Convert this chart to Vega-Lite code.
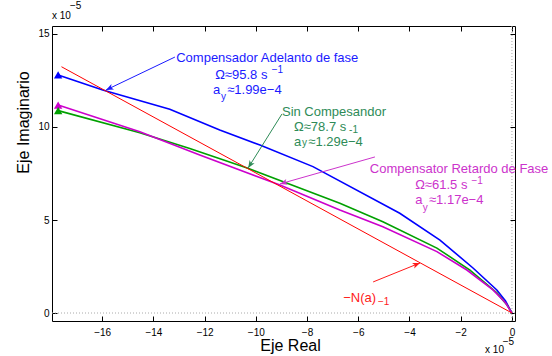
{
  "$schema": "https://vega.github.io/schema/vega-lite/v6.json",
  "width": 463,
  "height": 295,
  "autosize": "none",
  "padding": {"left": 52, "top": 26, "right": 37, "bottom": 35},
  "background": "white",
  "config": {
    "view": {"stroke": null},
    "font": "Liberation Sans",
    "axis": {"grid": false, "domainColor": "black", "tickColor": "black", "labelColor": "black", "titleColor": "black", "domainWidth": 1, "tickWidth": 1, "labelFlush": false, "labelFont": "Liberation Sans", "titleFont": "Liberation Sans"}
  },
  "datasets": {
    "curvas": [
      {"grupo": "adelanto", "x": -17.72, "y": 12.80},
      {"grupo": "adelanto", "x": -15.98, "y": 11.99},
      {"grupo": "adelanto", "x": -13.36, "y": 10.95},
      {"grupo": "adelanto", "x": -11.41, "y": 9.84},
      {"grupo": "adelanto", "x": -9.84, "y": 9.03},
      {"grupo": "adelanto", "x": -7.77, "y": 7.87},
      {"grupo": "adelanto", "x": -4.38, "y": 5.36},
      {"grupo": "adelanto", "x": -2.81, "y": 3.92},
      {"grupo": "adelanto", "x": -1.52, "y": 2.42},
      {"grupo": "adelanto", "x": -0.59, "y": 1.24},
      {"grupo": "adelanto", "x": -0.25, "y": 0.65},
      {"grupo": "adelanto", "x": 0, "y": 0},
      {"grupo": "sin", "x": -17.72, "y": 10.88},
      {"grupo": "sin", "x": -14.53, "y": 9.69},
      {"grupo": "sin", "x": -12.58, "y": 8.85},
      {"grupo": "sin", "x": -10.31, "y": 7.78},
      {"grupo": "sin", "x": -6.72, "y": 5.90},
      {"grupo": "sin", "x": -5.04, "y": 4.91},
      {"grupo": "sin", "x": -2.93, "y": 3.49},
      {"grupo": "sin", "x": -1.64, "y": 2.31},
      {"grupo": "sin", "x": -0.59, "y": 1.08},
      {"grupo": "sin", "x": -0.2, "y": 0.45},
      {"grupo": "sin", "x": 0, "y": 0},
      {"grupo": "retardo", "x": -17.72, "y": 11.18},
      {"grupo": "retardo", "x": -14.53, "y": 9.75},
      {"grupo": "retardo", "x": -12.19, "y": 8.49},
      {"grupo": "retardo", "x": -9.06, "y": 6.88},
      {"grupo": "retardo", "x": -6.72, "y": 5.54},
      {"grupo": "retardo", "x": -5.04, "y": 4.64},
      {"grupo": "retardo", "x": -2.93, "y": 3.30},
      {"grupo": "retardo", "x": -1.76, "y": 2.31},
      {"grupo": "retardo", "x": -0.74, "y": 1.24},
      {"grupo": "retardo", "x": -0.25, "y": 0.55},
      {"grupo": "retardo", "x": 0, "y": 0},
      {"grupo": "N", "x": -17.59, "y": 13.24},
      {"grupo": "N", "x": 0, "y": 0}
    ],
    "inicios": [
      {"grupo": "adelanto", "x": -17.72, "y": 12.80},
      {"grupo": "retardo", "x": -17.72, "y": 11.18},
      {"grupo": "sin", "x": -17.72, "y": 10.88}
    ],
    "flechas": [
      {"grupo": "adelanto_t", "x": -13.16, "y": 13.76, "x2": -15.85, "y2": 11.99, "ang": 154.4},
      {"grupo": "sin_t", "x": -8.98, "y": 10.70, "x2": -10.30, "y2": 7.80, "ang": 122.2},
      {"grupo": "retardo_t", "x": -5.35, "y": 8.39, "x2": -9.06, "y2": 6.94, "ang": 164.4},
      {"grupo": "N_t", "x": -5.42, "y": 1.67, "x2": -3.59, "y2": 2.69, "ang": 338}
    ],
    "textos": [
      {"tipo": "main", "grupo": "adelanto_t", "x": -13.11, "y": 13.73, "texto": "Compensador Adelanto de fase"},
      {"tipo": "main", "grupo": "adelanto_t", "x": -11.59, "y": 12.80, "texto": "Ω≈95.8 s"},
      {"tipo": "script", "grupo": "adelanto_t", "x": -9.38, "y": 13.09, "texto": "−1"},
      {"tipo": "main", "grupo": "adelanto_t", "x": -11.67, "y": 11.99, "texto": "a"},
      {"tipo": "script", "grupo": "adelanto_t", "x": -11.36, "y": 11.63, "texto": "y"},
      {"tipo": "main", "grupo": "adelanto_t", "x": -11.12, "y": 11.99, "texto": "≈1.99e−4"},
      {"tipo": "main", "grupo": "sin_t", "x": -8.98, "y": 10.81, "texto": "Sin Compesandor"},
      {"tipo": "main", "grupo": "sin_t", "x": -8.51, "y": 10.0, "texto": "Ω≈78.7 s"},
      {"tipo": "script", "grupo": "sin_t", "x": -6.36, "y": 9.85, "texto": "-1"},
      {"tipo": "main", "grupo": "sin_t", "x": -8.51, "y": 9.19, "texto": "a"},
      {"tipo": "script", "grupo": "sin_t", "x": -8.2, "y": 9.12, "texto": "y"},
      {"tipo": "main", "grupo": "sin_t", "x": -7.95, "y": 9.19, "texto": "≈1.29e−4"},
      {"tipo": "main", "grupo": "retardo_t", "x": -5.55, "y": 7.76, "texto": "Compensator Retardo de Fase"},
      {"tipo": "main", "grupo": "retardo_t", "x": -3.78, "y": 6.88, "texto": "Ω≈61.5 s"},
      {"tipo": "script", "grupo": "retardo_t", "x": -1.58, "y": 7.12, "texto": "−1"},
      {"tipo": "main", "grupo": "retardo_t", "x": -3.78, "y": 6.08, "texto": "a"},
      {"tipo": "script", "grupo": "retardo_t", "x": -3.48, "y": 5.62, "texto": "y"},
      {"tipo": "main", "grupo": "retardo_t", "x": -3.24, "y": 6.08, "texto": "≈1.17e−4"},
      {"tipo": "main", "grupo": "N_t", "x": -6.59, "y": 0.81, "texto": "−N(a)"},
      {"tipo": "script", "grupo": "N_t", "x": -5.23, "y": 0.59, "texto": "−1"}
    ],
    "escala": [
      {"x": -17.96, "y": 15.97, "texto": "x 10"},
      {"x": -17.26, "y": 16.5, "texto": "−5"},
      {"x": -1.05, "y": -1.99, "texto": "x 10"},
      {"x": -0.36, "y": -1.56, "texto": "−5"}
    ],
    "cero": [{"v": 0}]
  },
  "resolve": {"axis": {"x": "independent", "y": "independent"}},
  "layer": [
    {
      "data": {"name": "cero"},
      "mark": {"type": "rule", "color": "#aaaaaa", "strokeDash": [1, 2], "strokeWidth": 1},
      "encoding": {"y": {"field": "v", "type": "quantitative", "scale": {"domain": [-0.43, 15.43], "nice": false, "zero": false}, "axis": null}}
    },
    {
      "data": {"name": "cero"},
      "mark": {"type": "rule", "color": "#aaaaaa", "strokeDash": [1, 2], "strokeWidth": 1},
      "encoding": {"x": {"field": "v", "type": "quantitative", "scale": {"domain": [-17.96, 0.12], "nice": false, "zero": false}, "axis": null}}
    },
    {
      "data": {"name": "curvas"},
      "mark": {"type": "point", "opacity": 0},
      "encoding": {
        "x": {"field": "x", "type": "quantitative", "scale": {"domain": [-17.96, 0.12], "nice": false, "zero": false},
              "axis": {"orient": "top", "values": [-16, -14, -12, -10, -8, -6, -4, -2, 0], "labels": false, "title": null, "tickSize": -5}},
        "y": {"field": "y", "type": "quantitative", "scale": {"domain": [-0.43, 15.43], "nice": false, "zero": false},
              "axis": {"orient": "right", "values": [0, 5, 10, 15], "labels": false, "title": null, "tickSize": -5}}
      }
    },
    {
      "data": {"name": "curvas"},
      "transform": [{"filter": "datum.grupo != 'N'"}],
      "mark": {"type": "line", "strokeWidth": 1.6},
      "encoding": {
        "x": {"field": "x", "type": "quantitative", "scale": {"domain": [-17.96, 0.12], "nice": false, "zero": false},
              "axis": {"orient": "bottom", "values": [-16, -14, -12, -10, -8, -6, -4, -2, 0], "title": "Eje Real", "tickSize": -5, "labelPadding": 11, "labelFontSize": 10, "titleFontSize": 16, "titleFontWeight": "normal", "titleX": 238, "titleY": 24, "titleBaseline": "middle", "titleAlign": "center"}},
        "y": {"field": "y", "type": "quantitative", "scale": {"domain": [-0.43, 15.43], "nice": false, "zero": false},
              "axis": {"orient": "left", "values": [0, 5, 10, 15], "title": "Eje Imaginario", "tickSize": -5, "labelPadding": 8, "labelFontSize": 10, "titleFontSize": 16, "titleFontWeight": "normal", "titleX": -29, "titleY": 96, "titleAngle": -90, "titleBaseline": "middle", "titleAlign": "center"}},
        "color": {"field": "grupo", "type": "nominal", "legend": null,
                  "scale": {"domain": ["adelanto", "sin", "retardo", "N", "adelanto_t", "sin_t", "retardo_t", "N_t"], "range": ["#0000ff", "#00a000", "#cc00cc", "#ff0000", "#1a1aff", "#2e8b57", "#cc33cc", "#ff1a1a"]}}
      }
    },
    {
      "data": {"name": "curvas"},
      "transform": [{"filter": "datum.grupo == 'N'"}],
      "mark": {"type": "line", "strokeWidth": 1},
      "encoding": {
        "x": {"field": "x", "type": "quantitative", "scale": {"domain": [-17.96, 0.12], "nice": false, "zero": false}, "axis": null},
        "y": {"field": "y", "type": "quantitative", "scale": {"domain": [-0.43, 15.43], "nice": false, "zero": false}, "axis": null},
        "color": {"field": "grupo", "type": "nominal", "legend": null,
                  "scale": {"domain": ["adelanto", "sin", "retardo", "N", "adelanto_t", "sin_t", "retardo_t", "N_t"], "range": ["#0000ff", "#00a000", "#cc00cc", "#ff0000", "#1a1aff", "#2e8b57", "#cc33cc", "#ff1a1a"]}}
      }
    },
    {
      "data": {"name": "inicios"},
      "mark": {"type": "point", "shape": "triangle-up", "filled": true, "size": 70, "opacity": 1},
      "encoding": {
        "x": {"field": "x", "type": "quantitative", "scale": {"domain": [-17.96, 0.12], "nice": false, "zero": false}, "axis": null},
        "y": {"field": "y", "type": "quantitative", "scale": {"domain": [-0.43, 15.43], "nice": false, "zero": false}, "axis": null},
        "color": {"field": "grupo", "type": "nominal", "legend": null,
                  "scale": {"domain": ["adelanto", "sin", "retardo", "N", "adelanto_t", "sin_t", "retardo_t", "N_t"], "range": ["#0000ff", "#00a000", "#cc00cc", "#ff0000", "#1a1aff", "#2e8b57", "#cc33cc", "#ff1a1a"]}}
      }
    },
    {
      "data": {"name": "flechas"},
      "mark": {"type": "rule", "strokeWidth": 1},
      "encoding": {
        "x": {"field": "x", "type": "quantitative", "scale": {"domain": [-17.96, 0.12], "nice": false, "zero": false}, "axis": null},
        "y": {"field": "y", "type": "quantitative", "scale": {"domain": [-0.43, 15.43], "nice": false, "zero": false}, "axis": null},
        "x2": {"field": "x2"},
        "y2": {"field": "y2"},
        "color": {"field": "grupo", "type": "nominal", "legend": null,
                  "scale": {"domain": ["adelanto", "sin", "retardo", "N", "adelanto_t", "sin_t", "retardo_t", "N_t"], "range": ["#0000ff", "#00a000", "#cc00cc", "#ff0000", "#1a1aff", "#2e8b57", "#cc33cc", "#ff1a1a"]}}
      }
    },
    {
      "data": {"name": "flechas"},
      "mark": {"type": "point", "shape": "M0,0L-1,-0.4L-0.75,0L-1,0.4Z", "filled": true, "size": 220, "opacity": 1},
      "encoding": {
        "x": {"field": "x2", "type": "quantitative", "scale": {"domain": [-17.96, 0.12], "nice": false, "zero": false}, "axis": null},
        "y": {"field": "y2", "type": "quantitative", "scale": {"domain": [-0.43, 15.43], "nice": false, "zero": false}, "axis": null},
        "angle": {"field": "ang", "type": "quantitative", "scale": null},
        "color": {"field": "grupo", "type": "nominal", "legend": null,
                  "scale": {"domain": ["adelanto", "sin", "retardo", "N", "adelanto_t", "sin_t", "retardo_t", "N_t"], "range": ["#0000ff", "#00a000", "#cc00cc", "#ff0000", "#1a1aff", "#2e8b57", "#cc33cc", "#ff1a1a"]}}
      }
    },
    {
      "data": {"name": "textos"},
      "transform": [{"filter": "datum.tipo == 'main'"}],
      "mark": {"type": "text", "align": "left", "baseline": "middle", "fontSize": 13, "font": "Liberation Sans"},
      "encoding": {
        "x": {"field": "x", "type": "quantitative", "scale": {"domain": [-17.96, 0.12], "nice": false, "zero": false}, "axis": null},
        "y": {"field": "y", "type": "quantitative", "scale": {"domain": [-0.43, 15.43], "nice": false, "zero": false}, "axis": null},
        "text": {"field": "texto"},
        "color": {"field": "grupo", "type": "nominal", "legend": null,
                  "scale": {"domain": ["adelanto", "sin", "retardo", "N", "adelanto_t", "sin_t", "retardo_t", "N_t"], "range": ["#0000ff", "#00a000", "#cc00cc", "#ff0000", "#1a1aff", "#2e8b57", "#cc33cc", "#ff1a1a"]}}
      }
    },
    {
      "data": {"name": "textos"},
      "transform": [{"filter": "datum.tipo == 'script'"}],
      "mark": {"type": "text", "align": "left", "baseline": "middle", "fontSize": 10, "font": "Liberation Sans"},
      "encoding": {
        "x": {"field": "x", "type": "quantitative", "scale": {"domain": [-17.96, 0.12], "nice": false, "zero": false}, "axis": null},
        "y": {"field": "y", "type": "quantitative", "scale": {"domain": [-0.43, 15.43], "nice": false, "zero": false}, "axis": null},
        "text": {"field": "texto"},
        "color": {"field": "grupo", "type": "nominal", "legend": null,
                  "scale": {"domain": ["adelanto", "sin", "retardo", "N", "adelanto_t", "sin_t", "retardo_t", "N_t"], "range": ["#0000ff", "#00a000", "#cc00cc", "#ff0000", "#1a1aff", "#2e8b57", "#cc33cc", "#ff1a1a"]}}
      }
    },
    {
      "data": {"name": "escala"},
      "mark": {"type": "text", "align": "left", "baseline": "middle", "fontSize": 10, "font": "Liberation Sans", "color": "black"},
      "encoding": {
        "x": {"field": "x", "type": "quantitative", "scale": {"domain": [-17.96, 0.12], "nice": false, "zero": false}, "axis": null},
        "y": {"field": "y", "type": "quantitative", "scale": {"domain": [-0.43, 15.43], "nice": false, "zero": false}, "axis": null},
        "text": {"field": "texto"}
      }
    }
  ]
}
